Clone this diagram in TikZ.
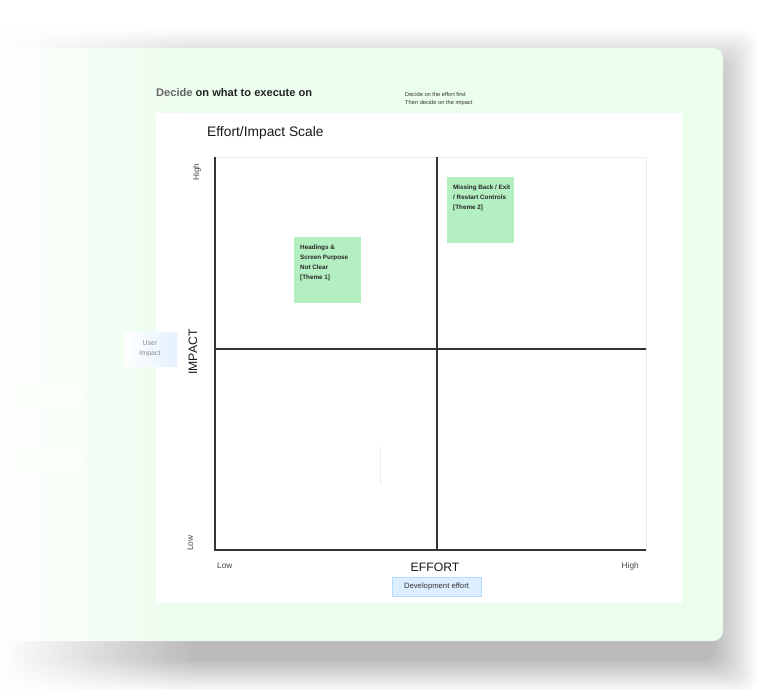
\documentclass[tikz,border=0pt]{standalone}
\usepackage{fontspec}
\setmainfont{Liberation Sans}
\usetikzlibrary{fadings}
\tikzfading[name=fadeleft, left color=transparent!0, right color=transparent!100]
\definecolor{cardgreen}{HTML}{EBFDEC}
\definecolor{stickygreen}{HTML}{B3EFC0}
\definecolor{axisgray}{HTML}{333333}
\definecolor{framegray}{HTML}{EBEBEB}
\definecolor{devfill}{HTML}{DCEEFF}
\definecolor{devline}{HTML}{B5DBFF}
\definecolor{userfill}{HTML}{E4F1FF}
\definecolor{labelgray}{HTML}{444444}
\tikzset{
  axisline/.style={draw=axisgray, line width=1.6pt},
  stickynote/.style={fill=stickygreen, draw=none, minimum width=67pt, minimum height=66pt, inner sep=0pt},
  stickytext/.style={anchor=north west, align=left, font=\bfseries\fontsize{6.3}{10}\selectfont, text=black!85, inner sep=0pt},
  scalelabel/.style={font=\fontsize{8.3}{10}\selectfont, text=labelgray, inner sep=0pt},
  axistitle/.style={font=\fontsize{12.2}{14}\selectfont, text=black!90, inner sep=0pt},
}
\begin{document}
\begin{tikzpicture}[x=1pt,y=-1pt]
\useasboundingbox (0,0) rectangle (760,690);
\fill[white] (0,0) rectangle (760,690);
% shadow
\foreach \i in {1,...,34} {
  \fill[black, opacity=0.006, rounded corners=14pt]
    (-40,{48+26-\i*1.3}) rectangle ({714+\i*1.3},{641+18+\i*1.0});
}
% card
\fill[cardgreen, rounded corners=10pt] (-40,48) rectangle (723,641);
% white panel
\fill[white] (156,113) rectangle (682,603);
% fade on the left
\fill[white, path fading=fadeleft] (0,0) rectangle (195,690);
% faint left rectangles
\fill[green!2] (16,386) rectangle (83,406);
\fill[green!2] (16,450) rectangle (83,470);

% header
\node[anchor=west, inner sep=0pt, font=\bfseries\fontsize{11.1}{13}\selectfont, text=black!85] (title) at (156,93)
  {\textcolor{black!60}{Decide} on what to execute on};
\node[anchor=north west, align=left, inner sep=0pt, font=\fontsize{5.7}{8}\selectfont, text=black!80] (note) at (405,92)
  {Decide on the effort first\\Then decide on the impact};
\node[anchor=west, inner sep=0pt, font=\fontsize{13.8}{16}\selectfont, text=black!90] (scale) at (207,133) {Effort/Impact Scale};

% plot frame and axes
\coordinate (tl) at (215,157);
\coordinate (bl) at (215,550);
\coordinate (br) at (646,550);
\coordinate (tr) at (646,157);
\coordinate (mt) at (437,157);
\coordinate (mb) at (437,550);
\coordinate (ml) at (215,349);
\coordinate (mr) at (646,349);
\draw[framegray, line width=0.8pt] (tl) rectangle (br);
\draw[axisline] (tl) -- (bl) -- (br);
\draw[axisline] (mt) -- (mb);
\draw[axisline] (ml) -- (mr);
\coordinate (fa) at (380,447);
\coordinate (fb) at (380,485);
\draw[black!8, line width=1pt] (fa) -- (fb);

% axis labels
\node[scalelabel, rotate=90] (yhigh) at (197,172) {High};
\node[scalelabel, rotate=90] (ylow) at (190,543) {Low};
\node[axistitle, rotate=90] (impact) at (193,352) {IMPACT};
\node[scalelabel, anchor=west] (xlow) at (217,566) {Low};
\node[axistitle] (effort) at (435,567) {EFFORT};
\node[scalelabel, anchor=east] (xhigh) at (639,566) {High};

% user impact box
\shade[left color=white, right color=userfill] (124,332) rectangle (177,366);
\node[align=center, inner sep=0pt, font=\fontsize{7}{10}\selectfont, text=black!45] (user) at (150,349) {User\\Impact};

% development effort box
\node[fill=devfill, draw=devline, line width=0.6pt, minimum width=89pt, minimum height=19pt, inner sep=0pt,
  font=\fontsize{7.7}{9}\selectfont, text=black!80] (dev) at (436.5,586.5) {Development effort};

% sticky notes
\node[stickynote] (s1) at (327.5,270) {};
\node[stickytext] (s1t) at (300,244.5) {Headings \&\\Screen Purpose\\Not Clear\\{[}Theme 1{]}};
\node[stickynote] (s2) at (480.5,210) {};
\node[stickytext] (s2t) at (453,185) {Missing Back / Exit\\/ Restart Controls\\{[}Theme 2{]}};
\end{tikzpicture}
\end{document}
